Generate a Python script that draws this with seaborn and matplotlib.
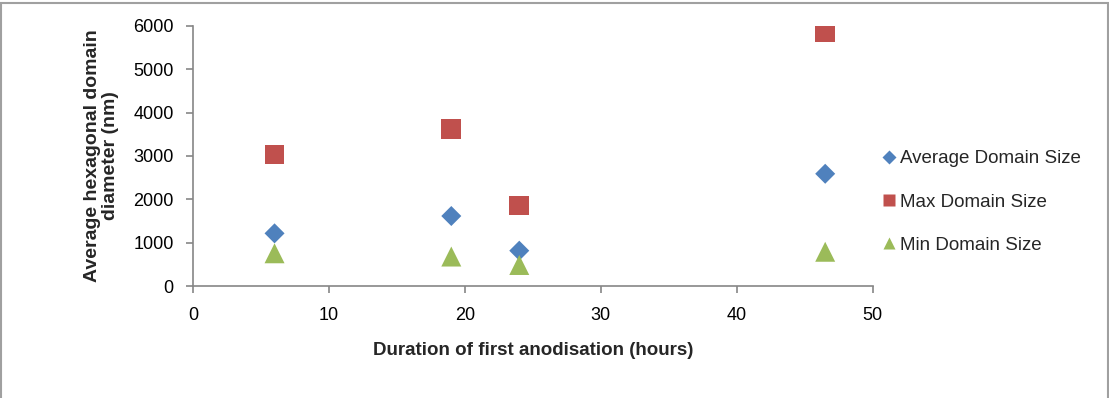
import matplotlib
matplotlib.use("Agg")
import matplotlib.pyplot as plt
import seaborn as sns
import pandas as pd
from matplotlib.patches import Rectangle
from matplotlib.lines import Line2D

# Data
hours = [6, 19, 24, 46.5]
avg_size = [1215, 1615, 815, 2590]
max_size = [3035, 3620, 1860, 5850]
min_size = [755, 680, 485, 790]
series_names = ["Average Domain Size", "Max Domain Size", "Min Domain Size"]

rows = []
for name, vals in zip(series_names, [avg_size, max_size, min_size]):
    for h, v in zip(hours, vals):
        rows.append({"hours": h, "size": v, "series": name})
df = pd.DataFrame(rows)

sns.set_style("white")
plt.rcParams["font.family"] = ["Liberation Sans", "DejaVu Sans"]

palette = {"Average Domain Size": "#4F81BD", "Max Domain Size": "#C0504D", "Min Domain Size": "#9BBB59"}
markers = {"Average Domain Size": "D", "Max Domain Size": "s", "Min Domain Size": "^"}
sizes = {"Average Domain Size": 104, "Max Domain Size": 200, "Min Domain Size": 207}

fig = plt.figure(figsize=(11.09, 3.98), dpi=100)
ax = fig.add_axes([0.174, 0.2814, 0.613, 0.6533])

for name in series_names:
    sub = df[df["series"] == name]
    sns.scatterplot(data=sub, x="hours", y="size", marker=markers[name], color=palette[name],
                    s=sizes[name], edgecolor="none", ax=ax, label=name, legend=False)

ax.set_xlim(0, 50)
ax.set_ylim(0, 6000)
ax.set_xticks(range(0, 51, 10))
ax.set_yticks(range(0, 6001, 1000))
for side in ["top", "right"]:
    ax.spines[side].set_visible(False)
for side in ["left", "bottom"]:
    ax.spines[side].set_color("#868686")
    ax.spines[side].set_linewidth(1.2)
ax.tick_params(axis="both", which="major", direction="out", length=5, width=1.2,
               color="#868686", labelsize=13, labelcolor="#000000", left=True, bottom=True)
ax.tick_params(axis="y", pad=9)
ax.tick_params(axis="x", pad=10)
ax.set_xlabel("Duration of first anodisation (hours)", fontsize=13.5, fontweight="bold", labelpad=13)
ax.set_ylabel("Average hexagonal domain\ndiameter (nm)", fontsize=14, fontweight="bold", labelpad=10,
              linespacing=1.05)

handles = []
hsz = {"Average Domain Size": 6.8, "Max Domain Size": 9, "Min Domain Size": 9}
for name in series_names:
    handles.append(Line2D([], [], linestyle="none", marker=markers[name], color=palette[name],
                          markeredgecolor="none", markersize=hsz[name]))
fig.legend(handles, series_names, loc="center left", bbox_to_anchor=(0.793, 0.4925),
           frameon=False, fontsize=13.5, handletextpad=0.1, labelspacing=1.4, handlelength=1.0,
           borderpad=0, borderaxespad=0)

fig.patches.append(Rectangle((0.0012, -0.05), 0.9975, 1.0425, transform=fig.transFigure,
                             fill=False, edgecolor="#a0a0a0", linewidth=1.5))

fig.savefig("out.png", dpi=100)
